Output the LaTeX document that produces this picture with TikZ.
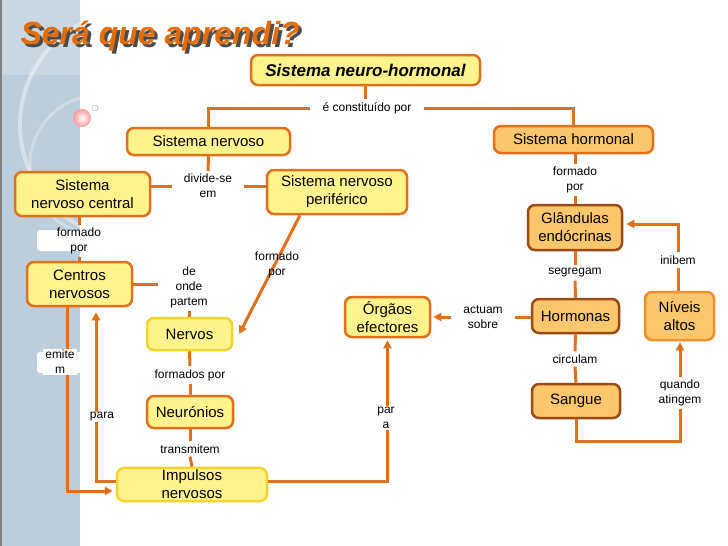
\documentclass[tikz,border=0pt]{standalone}
\usepackage{fontspec}
\setmainfont{Liberation Sans}
\usetikzlibrary{arrows.meta, positioning, calc, shadings}
\definecolor{lnorange}{HTML}{E0701C}
\definecolor{boxyel}{HTML}{FFF38E}
\definecolor{boxorange}{HTML}{FCC66C}
\definecolor{dkbrown}{HTML}{9A4A12}
\definecolor{nivborder}{HTML}{F0902C}
\definecolor{yelborder}{HTML}{F2D42A}
\definecolor{titleorange}{HTML}{E46C0A}
\definecolor{strip}{HTML}{BCCEDB}
\definecolor{ballpink}{HTML}{F49A9A}

\begin{document}
\begin{tikzpicture}[
  x=1pt, y=-1pt,
  >={Triangle[length=8pt, width=8pt]},
  box/.style={
    draw=#1, line width=2.5pt, fill=boxyel, rounded corners=7pt,
    font=\fontsize{15}{18}\selectfont, text=black,
    align=center, inner sep=2pt
  },
  box/.default=lnorange,
  hbox/.style={box=#1, fill=boxorange},
  hbox/.default=dkbrown,
  lbl/.style={
    font=\fontsize{12}{15}\selectfont, align=center,
    inner xsep=12pt, inner ysep=3pt
  },
  link/.style={line width=3pt, lnorange},
  arr/.style={->, line width=3pt, lnorange},
]

% Background
\useasboundingbox (0,0) rectangle (728,546);
\fill[white] (0,0) rectangle (728,546);
\fill[strip] (0,0) rectangle (80,546);
\begin{scope}
  \clip (0,0) rectangle (80,546);
  \fill[white, opacity=0.2] (0,0) rectangle (80,75);
  \draw[white, opacity=0.4, line width=4pt] (135,125) circle (115pt);
  \draw[white, opacity=0.3, line width=3pt] (100,165) circle (70pt);
\end{scope}
\draw[gray, line width=2pt] (1,0) -- (1,546);
\shade[inner color=white, outer color=ballpink] (82,118) circle (9pt);
\draw[gray!60] (95,108) circle (3pt);

% white patches on the strip
\fill[white, rounded corners=3pt] (37,230) rectangle (82,251);
\fill[white, rounded corners=3pt] (37,352) rectangle (82,373);
\fill[white, rounded corners=3pt] (80,406) rectangle (97,426);

% Title
\node[anchor=base west, font=\fontsize{32}{36}\selectfont\bfseries\itshape,
      text=black!70] (titleshadow) at (20,47) {Será que aprendi?};
\node[anchor=base west, font=\fontsize{32}{36}\selectfont\bfseries\itshape,
      text=titleorange] (title) at (17,44) {Será que aprendi?};

% ===== Nodes =====
\node[box, minimum width=229pt, minimum height=30pt,
      font=\fontsize{17}{20}\selectfont\bfseries\itshape] (snh) at (365.5,70)
  {Sistema neuro-hormonal};

% nervous branch
\node[box, minimum width=163pt, minimum height=27pt] (sn) at (208.5,141.5) {Sistema nervoso};
\node[box, minimum width=135pt, minimum height=44pt] (snc) at (82.5,194) {Sistema\\nervoso central};
\node[box, minimum width=140pt, minimum height=44pt] (snp) at (337,192) {Sistema nervoso\\periférico};
\node[box, minimum width=105pt, minimum height=44pt] (cn) at (79.5,284) {Centros\\nervosos};
\node[box=yelborder, minimum width=85pt, minimum height=32pt] (nerv) at (189.5,334) {Nervos};
\node[box, minimum width=86pt, minimum height=32pt] (neur) at (190,412) {Neurónios};
\node[box=yelborder, minimum width=150pt, minimum height=31pt] (imp) at (192,484.5) {Impulsos\\nervosos};
\node[box, minimum width=85pt, minimum height=40pt] (org) at (387.5,317) {Órgãos\\efectores};

% hormonal branch
\node[hbox=lnorange, minimum width=159pt, minimum height=27pt] (sh) at (573.5,139.5) {Sistema hormonal};
\node[hbox, minimum width=94pt, minimum height=45pt] (glan) at (575,227.5) {Glândulas\\endócrinas};
\node[hbox, minimum width=87pt, minimum height=34pt] (horm) at (575.5,316) {Hormonas};
\node[hbox, minimum width=88pt, minimum height=34pt] (sang) at (576,401) {Sangue};
\node[hbox=nivborder, minimum width=69pt, minimum height=48pt] (niv) at (679.5,316) {Níveis\\altos};

% ===== Labels =====
\node[lbl] (lconst) at (367,108) {é constituído por};
\node[lbl] (ldiv) at (208,186) {divide-se\\em};
\node[lbl] (lform1) at (79,241) {formado\\por};
\node[lbl] (londe) at (189,287) {de\\onde\\partem};
\node[lbl] (lformados) at (190,375) {formados por};
\node[lbl] (ltrans) at (190,449) {transmitem};
\node[lbl] (lact) at (483,317) {actuam\\sobre};
\node[lbl] (lform3) at (575,180) {formado\\por};
\node[lbl] (lseg) at (575,273) {segregam};
\node[lbl] (lcirc) at (575,359) {circulam};
\node[lbl] (lquando) at (680,393) {quando\\atingem};
\node[lbl] (linib) at (678,260) {inibem};

% ===== Connectors =====
\draw[link] (snh.south) -- (snh.south |- lconst.north);
\draw[link] (lconst.west) -| (sn.north);
\draw[link] (lconst.east) -| (sh.north);

\draw[link] (sn.south) -- (ldiv.north);
\draw[link] (ldiv.west) -- (snc.east |- ldiv.west);
\draw[link] (ldiv.east) -- (snp.west |- ldiv.east);

\draw[link] (lform1.north |- snc.south) -- (lform1.north);
\draw[link] (lform1.south) -- (lform1.south |- cn.north);
\draw[link] (cn.east) -- (cn.east -| londe.west);
\draw[link] (londe.south) -- (londe.south |- nerv.north);
\draw[arr] ([xshift=-37pt]snp.south) -- ([xshift=6pt]nerv.east);
\node[lbl] (lform2) at (277,265) {formado\\por};

\draw[link] (nerv.south) -- (lformados.north);
\draw[link] (lformados.south) -- (neur.north);
\draw[link] (neur.south) -- (ltrans.north);
\draw[link] (ltrans.south) -- (imp.north);

\draw[arr, shorten >=3pt] ([xshift=-12.5pt]cn.south) |- ([yshift=-6.5pt]imp.west);
\draw[arr, shorten >=5pt] ([yshift=3.5pt]imp.west) -| ([xshift=16.5pt]cn.south);
\draw[arr, shorten >=2pt] ([yshift=3.5pt]imp.east) -| (org.south);
\node[lbl, fill=white, inner xsep=2pt, inner ysep=1pt] (lemit) at (60,362) {emite\\m};
\node[lbl, fill=white, inner xsep=2pt, inner ysep=1pt] (lpara) at (102,417) {para};
\node[lbl, fill=white, inner xsep=2pt, inner ysep=1pt] (lpara2) at (386,418) {par\\a};

\draw[arr, shorten >=2pt] (lact.west) -- (org.east);
\draw[link] (lact.east) -- (lact.east -| horm.west);

\draw[link] (lform3.north |- sh.south) -- (lform3.north);
\draw[link] (lform3.south) -- (glan.north);
\draw[link] (glan.south) -- (lseg.north);
\draw[link] (lseg.south) -- (horm.north);
\draw[link] (horm.south) -- (lcirc.north);
\draw[link] (lcirc.south) -- (sang.north);
\draw[link] (sang.south) -- ++(0,22) -| (lquando.south);
\draw[arr, shorten >=1pt] (lquando.north) -- (lquando.north |- niv.south);
\draw[link] (linib.south |- niv.north) -- (linib.south);
\draw[arr, shorten >=3pt] (linib.north) |- ([yshift=3.5pt]glan.east);

\end{tikzpicture}
\end{document}
